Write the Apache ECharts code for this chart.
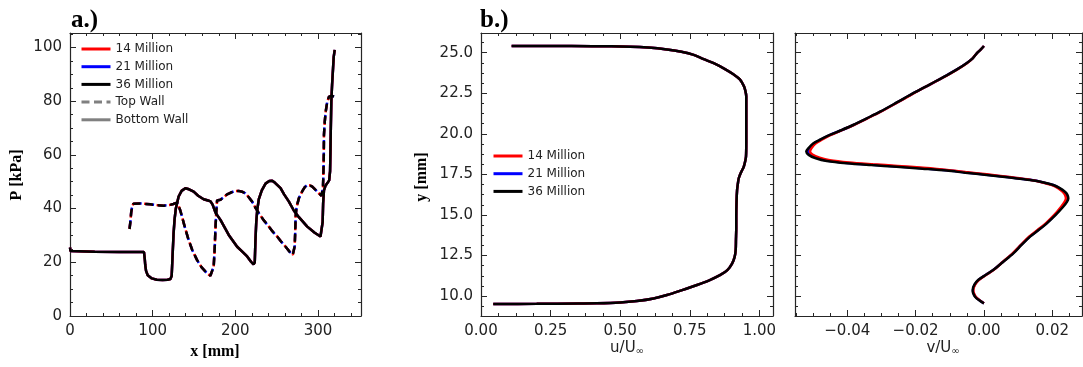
<!DOCTYPE html>
<html>
<head>
<meta charset="utf-8">
<script src="https://cdn.jsdelivr.net/npm/echarts@6/dist/echarts.min.js"></script>
<style>
html,body{margin:0;padding:0;background:#fff;}
#chart{width:1083px;height:367px;}
</style>
</head>
<body>
<div id="chart"></div>
<script>
// ---------- DATA ----------
// Panel a: wall pressure P [kPa] vs x [mm]
const bottomWall36 = [[0,25.5],[0.6,24.2],[2,24.0],[30,23.9],[60,23.8],[89.5,23.8],[90.5,21],[91,19],[92,16.8],[94,15.2],[99,14.0],[105,13.5],[112,13.4],[118,13.5],[121.5,13.8],[123,15],[124,22],[125.3,30.8],[126.5,36],[128,40],[131.4,44.5],[135,46.6],[139.5,47.6],[144,47.2],[149.6,46.3],[155,44.8],[161.7,43.5],[167,43],[170,42.7],[172.5,41.5],[176,38.5],[182,35.8],[192,30.2],[202.2,25.8],[210,23.5],[214.3,22.2],[219,20.2],[222,19.2],[223.5,20],[224.3,28],[225.3,35],[226.5,39.5],[228.4,43.5],[232,46.8],[236.5,49.3],[241,50.3],[244.6,50.4],[248,49.6],[254.7,47.6],[259,45.3],[264.8,42.6],[270.9,39.2],[276.9,36.8],[287,33.3],[296,31],[303,29.6],[305,29.3],[305.6,35],[306.2,42],[307.2,46.8],[309,48.5],[311.3,49.5],[313.5,50.5],[314.6,54],[315.1,62],[315.5,70],[316.1,79.9],[317,86],[318.2,92.3],[319,96.5],[320.2,99.1]];
const topWall36 = [[72,32.4],[73,35],[74,38.5],[74.8,40.1],[76.5,41.8],[78.8,42.3],[85,41.9],[97,41.6],[105,41.3],[113.2,41.1],[120,41.3],[125,41.7],[129.4,42.2],[131.5,41],[133.5,39.2],[135.5,37],[139,33],[143.5,28.3],[148,24.5],[153.6,20.9],[159,18.2],[165.8,15.9],[169.8,15],[172,15.5],[173.8,18.4],[175,25],[176,33],[177,39],[177.9,43],[180,43.3],[182,43.3],[186,44.3],[190,45.3],[194,45.9],[199,46.5],[204,46.6],[208,46.3],[212.2,45.7],[216,44.3],[220.3,42.6],[224,40.5],[228.4,38.3],[234,35.8],[240.5,33.3],[245,31.5],[250.6,29.6],[256,27.5],[260.8,25.8],[266,23.8],[269.5,22.8],[270.9,22.9],[271.8,26],[272.5,32],[272.9,37],[274,40.5],[276.9,43.9],[281,46.5],[284,48],[287,48.8],[290,48.7],[293.1,48.2],[297,47],[301,45.7],[304.2,44.8],[305.2,44.5],[306,48],[306.5,52.6],[307,60],[307.2,67.5],[308.2,72.5],[309.3,76.1],[311,79.5],[313.3,81.7],[315.3,82.4],[317,82],[319.4,81.7]];
// the 14 and 21 million meshes lie on top of the 36 million curves in panels a and b
const bottomWall14 = bottomWall36, bottomWall21 = bottomWall36;
const topWall14 = topWall36, topWall21 = topWall36;

// Panel b: u/U_inf vs y [mm]
const uProfile36 = [[0.044,9.51],[0.2,9.52],[0.35,9.54],[0.416,9.55],[0.5,9.6],[0.56,9.69],[0.62,9.85],[0.668,10.06],[0.72,10.35],[0.776,10.68],[0.82,10.97],[0.86,11.3],[0.885,11.6],[0.902,12.0],[0.911,12.4],[0.915,12.84],[0.916,13.5],[0.917,14.2],[0.917,14.89],[0.918,15.8],[0.92,16.54],[0.923,16.95],[0.926,17.26],[0.935,17.65],[0.944,17.97],[0.949,18.3],[0.952,18.6],[0.953,19.5],[0.953,20.5],[0.953,21.5],[0.953,22.3],[0.949,22.7],[0.944,22.95],[0.93,23.35],[0.908,23.65],[0.875,24.0],[0.836,24.35],[0.8,24.6],[0.764,24.86],[0.72,25.05],[0.668,25.2],[0.6,25.32],[0.536,25.37],[0.4,25.4],[0.25,25.41],[0.11,25.41]];
const uProfile14 = uProfile36, uProfile21 = uProfile36;

// Panel c: v/U_inf vs y [mm]
const vProfile36 = [[0,9.55],[-0.0015,9.75],[-0.0026,9.96],[-0.0032,10.2],[-0.0033,10.37],[-0.0028,10.7],[-0.0017,10.99],[0.0005,11.3],[0.0027,11.6],[0.0056,12.1],[0.0086,12.63],[0.011,13.15],[0.0135,13.66],[0.016,14.07],[0.0184,14.48],[0.021,15.0],[0.0232,15.5],[0.0243,15.8],[0.0247,16.02],[0.0244,16.25],[0.0237,16.43],[0.0222,16.65],[0.0203,16.84],[0.0175,17.0],[0.0135,17.15],[0.0075,17.3],[0.0008,17.46],[-0.0055,17.6],[-0.0109,17.73],[-0.018,17.85],[-0.0256,17.97],[-0.033,18.07],[-0.0402,18.18],[-0.046,18.32],[-0.0492,18.49],[-0.0513,18.7],[-0.052,18.9],[-0.0514,19.1],[-0.05,19.4],[-0.0478,19.65],[-0.0451,19.93],[-0.042,20.2],[-0.0383,20.54],[-0.0343,20.95],[-0.0304,21.36],[-0.0255,21.93],[-0.0207,22.5],[-0.0158,23.05],[-0.0109,23.6],[-0.008,23.95],[-0.0051,24.35],[-0.0033,24.65],[-0.0021,24.96],[-0.0009,25.2],[0,25.41]];
const vProfile21 = [[0,9.55],[-0.0014,9.75],[-0.0025,9.96],[-0.0031,10.2],[-0.0032,10.37],[-0.0027,10.7],[-0.0016,10.99],[0.0005,11.3],[0.0027,11.6],[0.0055,12.1],[0.0085,12.63],[0.0109,13.15],[0.0134,13.66],[0.0159,14.07],[0.0183,14.48],[0.0208,15.0],[0.0229,15.5],[0.024,15.8],[0.0244,16.02],[0.0241,16.25],[0.0234,16.43],[0.022,16.65],[0.0202,16.84],[0.0174,17.0],[0.0135,17.16],[0.0075,17.32],[0.0008,17.48],[-0.0055,17.62],[-0.0109,17.75],[-0.018,17.87],[-0.0255,17.99],[-0.0328,18.09],[-0.0399,18.2],[-0.0456,18.34],[-0.0487,18.51],[-0.0508,18.71],[-0.0515,18.9],[-0.051,19.1],[-0.0497,19.4],[-0.0476,19.65],[-0.045,19.93],[-0.0419,20.2],[-0.0382,20.54],[-0.0342,20.95],[-0.0303,21.36],[-0.0254,21.93],[-0.0206,22.5],[-0.0157,23.05],[-0.0109,23.6],[-0.008,23.95],[-0.0051,24.35],[-0.0033,24.65],[-0.0021,24.96],[-0.0009,25.2],[0,25.41]];
const vProfile14 = [[0,9.55],[-0.0013,9.75],[-0.0024,9.96],[-0.003,10.2],[-0.0031,10.37],[-0.0026,10.7],[-0.0015,10.99],[0.0006,11.3],[0.0028,11.6],[0.0055,12.1],[0.0084,12.63],[0.0108,13.15],[0.0132,13.66],[0.0157,14.07],[0.0181,14.48],[0.0206,15.0],[0.0226,15.5],[0.0236,15.8],[0.024,16.02],[0.0237,16.25],[0.023,16.43],[0.0217,16.65],[0.0199,16.84],[0.0172,17.0],[0.0134,17.17],[0.0075,17.33],[0.0008,17.5],[-0.0054,17.64],[-0.0108,17.77],[-0.0178,17.9],[-0.0253,18.02],[-0.0325,18.12],[-0.0395,18.23],[-0.0451,18.37],[-0.0481,18.53],[-0.0502,18.72],[-0.0509,18.9],[-0.0505,19.1],[-0.0493,19.4],[-0.0473,19.65],[-0.0448,19.93],[-0.0418,20.2],[-0.0381,20.54],[-0.0341,20.95],[-0.0302,21.36],[-0.0253,21.93],[-0.0205,22.5],[-0.0157,23.05],[-0.0108,23.6],[-0.0079,23.95],[-0.005,24.35],[-0.0033,24.65],[-0.0021,24.96],[-0.0009,25.2],[0,25.41]];

// Tick labels
const aXTicks = [0,100,200,300];
const aYTicks = [0,20,40,60,80,100];
const bXTicks = [0,0.25,0.5,0.75,1.0];
const yTicks = [10,12.5,15,17.5,20,22.5,25];
const cXTicks = [-0.04,-0.02,0,0.02];

const legendNamesA = ['14 Million','21 Million','36 Million','Top Wall','Bottom Wall'];
const legendNamesB = ['14 Million','21 Million','36 Million'];

// ---------- LAYOUT / STYLE ----------
const AX = '#262626';
const TICKFONT = {fontSize: 15, fontFamily: 'DejaVu Sans', color: '#222'};
const grids = [
  {left: 70, top: 33, width: 291, height: 283},
  {left: 481, top: 33, width: 292, height: 283},
  {left: 795, top: 33, width: 287, height: 283}
];
function range(min, max, step) {
  const out = [];
  const s = Math.ceil(min / step - 1e-9);
  for (let i = s; i * step <= max + 1e-9; i++) out.push(+(i * step).toFixed(6));
  return out;
}
function axesFor(dim, grid, min, max, majorVals, minorStep, labelVals, fmt) {
  const pos = dim === 'x' ? ['bottom', 'top'] : ['left', 'right'];
  const minorVals = range(min, max, minorStep);
  const base = {type: 'value', gridIndex: grid, min: min, max: max, splitLine: {show: false}};
  const list = [];
  pos.forEach((p, pi) => {
    list.push(Object.assign({}, base, {
      position: p,
      axisLine: {show: true, onZero: false, lineStyle: {color: AX, width: 1.2}},
      axisTick: {show: true, inside: true, length: 6, customValues: majorVals, lineStyle: {color: AX, width: 1}},
      axisLabel: (pi === 0 && labelVals) ? Object.assign({show: true, margin: 8, customValues: labelVals, formatter: fmt}, TICKFONT) : {show: false}
    }));
    list.push(Object.assign({}, base, {
      position: p,
      axisLine: {show: false, onZero: false},
      axisTick: {show: true, inside: true, length: 3, customValues: minorVals, lineStyle: {color: AX, width: 1}},
      axisLabel: {show: false}
    }));
  });
  return list;
}
const fmtInt = v => String(Math.round(v));
const fmt2 = v => (Math.abs(v) < 1e-9 ? 0 : v).toFixed(2).replace('-', '\u2212');
const fmt1 = v => v.toFixed(1);

const xAxes = [].concat(
  axesFor('x', 0, 0, 352, aXTicks, 20, aXTicks, fmtInt),
  axesFor('x', 1, 0, 1.049, bXTicks, 0.0625, bXTicks, fmt2),
  axesFor('x', 2, -0.0553, 0.0287, cXTicks, 0.005, cXTicks, fmt2)
);
const yAxes = [].concat(
  axesFor('y', 0, 0, 105.4, aYTicks, 5, aYTicks, fmtInt),
  axesFor('y', 1, 8.77, 26.21, yTicks, 0.625, yTicks, fmt1),
  axesFor('y', 2, 8.77, 26.21, yTicks, 0.625, null, fmt1)
);

const COLORS = {'14 Million': '#ff0000', '21 Million': '#0000ff', '36 Million': '#000000'};
const Z = {'14 Million': 3, '21 Million': 2, '36 Million': 4};
const DASH_OFF = {'14 Million': 1, '21 Million': 11.5, '36 Million': 0};
function line(name, data, grid, dashed, smooth) {
  return {
    type: 'line', name: name, data: data,
    xAxisIndex: grid * 4, yAxisIndex: grid * 4,
    showSymbol: false, symbol: 'none', z: Z[name], silent: true,
    smooth: smooth || false,
    color: COLORS[name],
    lineStyle: dashed ? {color: COLORS[name], width: 2.5, type: [8, 4.5], dashOffset: DASH_OFF[name]} : {color: COLORS[name], width: 2.5}
  };
}
const series = [
  line('14 Million', bottomWall14, 0, false),
  line('21 Million', bottomWall21, 0, false),
  line('36 Million', bottomWall36, 0, false),
  line('14 Million', topWall14, 0, true),
  line('21 Million', topWall21, 0, true),
  line('36 Million', topWall36, 0, true),
  {type: 'line', name: 'Top Wall', data: [], xAxisIndex: 0, yAxisIndex: 0, symbol: 'none', color: '#808080', lineStyle: {color: '#808080', width: 2.5, type: [8, 4.5]}},
  {type: 'line', name: 'Bottom Wall', data: [], xAxisIndex: 0, yAxisIndex: 0, symbol: 'none', color: '#808080', lineStyle: {color: '#808080', width: 2.5}},
  line('14 Million', uProfile14, 1, false, 0.3),
  line('21 Million', uProfile21, 1, false, 0.3),
  line('36 Million', uProfile36, 1, false, 0.3),
  line('14 Million', vProfile14, 2, false, 0.3),
  line('21 Million', vProfile21, 2, false, 0.3),
  line('36 Million', vProfile36, 2, false, 0.3)
];

const legendBase = {
  orient: 'vertical', itemWidth: 29, itemHeight: 12, itemGap: 5.7, selectedMode: false,
  itemStyle: {opacity: 0, borderWidth: 0},
  lineStyle: {width: 3},
  textStyle: {fontSize: 12, fontFamily: 'DejaVu Sans', color: '#222'}, padding: 0
};
const legends = [
  Object.assign({}, legendBase, {data: legendNamesA, left: 80, top: 43}),
  Object.assign({}, legendBase, {data: legendNamesB, left: 492, top: 150})
];

const serifBold = {fontFamily: 'Liberation Serif', fontWeight: 'bold', fill: '#000'};
const graphic = [
  {type: 'text', x: 71, y: 21, style: Object.assign({text: 'a.)', fontSize: 25, verticalAlign: 'middle', align: 'left'}, serifBold)},
  {type: 'text', x: 480, y: 21, style: Object.assign({text: 'b.)', fontSize: 25, verticalAlign: 'middle', align: 'left'}, serifBold)},
  {type: 'text', x: 215, y: 352, style: Object.assign({text: 'x [mm]', fontSize: 16, verticalAlign: 'middle', align: 'center'}, serifBold)},
  {type: 'text', x: 17, y: 175, rotation: Math.PI / 2, style: Object.assign({text: 'P [kPa]', fontSize: 16, verticalAlign: 'middle', align: 'center'}, serifBold)},
  {type: 'text', x: 422, y: 177, rotation: Math.PI / 2, style: Object.assign({text: 'y [mm]', fontSize: 16, verticalAlign: 'middle', align: 'center'}, serifBold)},
  {type: 'text', x: 627, y: 348, style: {text: 'u/U{s|\u221e}', fontSize: 15, fontFamily: 'DejaVu Sans', fill: '#222', align: 'center', verticalAlign: 'middle',
     rich: {s: {fontSize: 10, fontFamily: 'DejaVu Sans', fill: '#222', padding: [7, 0, 0, 0]}}}},
  {type: 'text', x: 943, y: 348, style: {text: 'v/U{s|\u221e}', fontSize: 15, fontFamily: 'DejaVu Sans', fill: '#222', align: 'center', verticalAlign: 'middle',
     rich: {s: {fontSize: 10, fontFamily: 'DejaVu Sans', fill: '#222', padding: [7, 0, 0, 0]}}}}
];

const chart = echarts.init(document.getElementById('chart'), null, {renderer: 'canvas'});
chart.setOption({
  animation: false,
  backgroundColor: '#fff',
  grid: grids,
  xAxis: xAxes,
  yAxis: yAxes,
  legend: legends,
  graphic: graphic,
  series: series
});
</script>
</body>
</html>
